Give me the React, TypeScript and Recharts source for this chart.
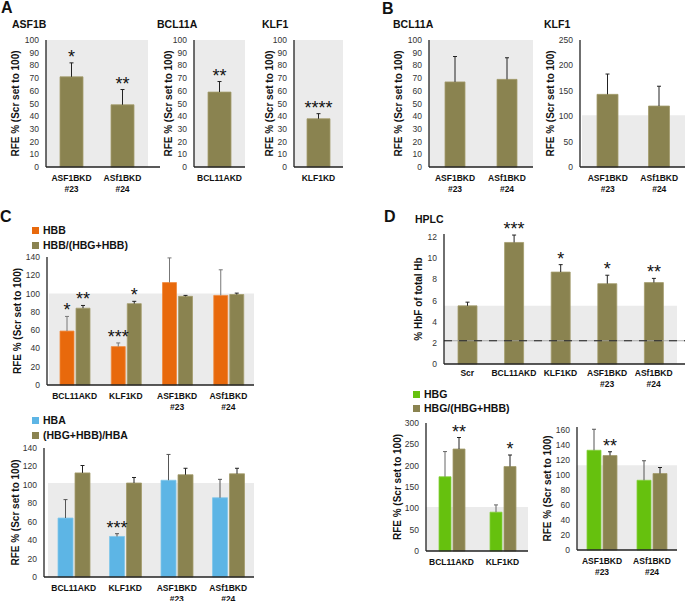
import React from 'react';
import {
  BarChart,
  Bar,
  XAxis,
  YAxis,
  ReferenceArea,
  ReferenceLine,
  ErrorBar,
  LabelList,
} from 'recharts';

const FONT = '"Liberation Sans", Arial, Helvetica, sans-serif';
const OLIVE = '#8a8350';
const OLIVE_EDGE = '#a39c6c';
const ORANGE = '#e8690c';
const BLUE = '#5db5e5';
const GREEN = '#66c10e';
const BAND = '#ebebeb';

// A: ASF1B / BCL11A / KLF1 knockdown
const asf1bCats = ['ASF1BKD\n#23', 'ASf1BKD\n#24'];
const asf1bVals = [71, 49];
const asf1bErr = [11, 12];
const asf1bStars = ['*', '**'];

const bcl11aCats = ['BCL11AKD'];
const bcl11aVals = [59];
const bcl11aErr = [8.3];
const bcl11aStars = ['**'];

const klf1Cats = ['KLF1KD'];
const klf1Vals = [38];
const klf1Err = [4];
const klf1Stars = ['****'];

// B: BCL11A / KLF1 in ASF1B knockdown
const bBcl11aVals = [67, 69];
const bBcl11aErr = [20, 17];
const bKlf1Vals = [143, 120];
const bKlf1Err = [40, 39];

// C
const cCats = ['BCL11AKD', 'KLF1KD', 'ASF1BKD\n#23', 'ASf1BKD\n#24'];
const hbbVals = [59, 42, 112, 98];
const hbbErr = [16, 4, 27, 28];
const hbbStars = ['*', '***', '', ''];
const hbbRatioVals = [84, 89, 97, 99];
const hbbRatioErr = [3, 2.5, 1, 1.5];
const hbbRatioStars = ['**', '*', '', ''];

const hbaVals = [64, 44, 105, 86];
const hbaErr = [20, 3, 28, 20];
const hbaStars = ['', '***', '', ''];
const hbaRatioVals = [113, 102, 111, 112];
const hbaRatioErr = [8, 6, 7, 6];

// D: HPLC
const hplcCats = ['Scr', 'BCL11AKD', 'KLF1KD', 'ASF1BKD\n#23', 'ASf1BKD\n#24'];
const hplcVals = [5.5, 11.5, 8.7, 7.6, 7.7];
const hplcErr = [0.35, 0.7, 0.7, 0.8, 0.4];
const hplcStars = ['', '***', '*', '*', '**'];

// D: HBG
const dCats1 = ['BCL11AKD', 'KLF1KD'];
const hbgVals1 = [174, 91];
const hbgErr1 = [59, 17];
const hbgRatioVals1 = [239, 198];
const hbgRatioErr1 = [27, 27];
const hbgRatioStars1 = ['**', '*'];

const dCats2 = ['ASF1BKD\n#23', 'ASf1BKD\n#24'];
const hbgVals2 = [133, 93];
const hbgErr2 = [28, 26];
const hbgRatioVals2 = [126, 102];
const hbgRatioErr2 = [5, 8];
const hbgRatioStars2 = ['**', ''];

const RFE = 'RFE % (Scr set to 100)';

type Series = {
  key: string;
  values: number[];
  errs: number[];
  stars?: string[];
  color: string;
  edge: string;
  errColor: string;
};

const range = (a: number, b: number, s: number) => {
  const out: number[] = [];
  for (let v = a; v <= b + 1e-9; v += s) out.push(v);
  return out;
};

const CatTick = (props: any) => {
  const { x, y, payload, dy } = props;
  const lines = String(payload.value).split('\n');
  return (
    <text x={x} y={y} textAnchor="middle" fontFamily={FONT} fontSize={8.5} fontWeight="bold" fill="#111">
      {lines.map((l, i) => (
        <tspan key={i} x={x} dy={i === 0 ? dy : 11}>
          {l}
        </tspan>
      ))}
    </text>
  );
};

const NumTick = (props: any) => {
  const { x, y, payload } = props;
  return (
    <text x={x} y={y} dy={3} textAnchor="end" fontFamily={FONT} fontSize={8.5} fill="#333">
      {payload.value}
    </text>
  );
};

const starContent = (vals: number[], errs: number[]) => (p: any) => {
  const { index, value } = p;
  if (!value) return null;
  const vb = p.viewBox || p;
  const { x, y, width, height } = vb;
  const top = y - errs[index] * (height / vals[index]);
  return (
    <text x={x + width / 2} y={top} textAnchor="middle" fontFamily={FONT} fontSize={18} fill="#111">
      {value}
    </text>
  );
};

const yLabelContent = (text: string, gap: number) => (p: any) => {
  const { x, y, width, height } = p.viewBox;
  const cx = x + width - gap;
  const cy = y + height / 2;
  return (
    <text
      x={cx}
      y={cy}
      transform={`rotate(-90 ${cx} ${cy})`}
      textAnchor="middle"
      dominantBaseline="central"
      fontFamily={FONT}
      fontSize={10}
      fontWeight="bold"
      fill="#111"
    >
      {text}
    </text>
  );
};

type PanelProps = {
  axisX: number;
  top: number;
  bottom: number;
  right: number;
  domain: [number, number];
  ticks: number[];
  band: number;
  cats: string[];
  series: Series[];
  barSize: number;
  barGap?: number;
  pad?: { left: number; right: number };
  yLabel: string;
  labelGap: number;
  xLabelDy?: number;
  dashed?: number;
};

const Panel = ({
  axisX,
  top,
  bottom,
  right,
  domain,
  ticks,
  band,
  cats,
  series,
  barSize,
  barGap = 2,
  pad = { left: 0, right: 0 },
  yLabel,
  labelGap,
  xLabelDy = 14,
  dashed,
}: PanelProps) => {
  const yAxisW = 40;
  const mTop = 18;
  const xH = 34;
  const data = cats.map((c, i) => {
    const row: any = { cat: c };
    series.forEach((s) => {
      row[s.key] = s.values[i];
      row[s.key + 'Err'] = [0, s.errs[i]];
      row[s.key + 'Star'] = s.stars ? s.stars[i] : '';
    });
    return row;
  });
  const width = yAxisW + (right - axisX) + 1;
  const height = mTop + (bottom - top) + xH;
  return (
    <div style={{ position: 'absolute', left: axisX - yAxisW, top: top - mTop }}>
      <BarChart
        width={width}
        height={height}
        data={data}
        margin={{ top: mTop, right: 1, left: 0, bottom: 0 }}
        barGap={barGap}
      >
        <ReferenceArea y1={0} y2={band} fill={BAND} fillOpacity={1} stroke="none" />
        <XAxis
          dataKey="cat"
          interval={0}
          tickLine={false}
          tickSize={0}
          tickMargin={0}
          height={xH}
          padding={pad}
          axisLine={{ stroke: '#222', strokeWidth: 1.3 }}
          tick={(p: any) => <CatTick {...p} dy={xLabelDy} />}
        />
        <YAxis
          type="number"
          domain={domain}
          ticks={ticks}
          interval={0}
          minTickGap={-20}
          width={yAxisW}
          tickLine={false}
          tickSize={0}
          tickMargin={7}
          axisLine={{ stroke: '#222', strokeWidth: 1.3 }}
          tick={(p: any) => <NumTick {...p} />}
          label={{ content: yLabelContent(yLabel, labelGap) } as any}
        />
        {series.map((s) => (
          <Bar
            key={s.key}
            dataKey={s.key}
            fill={s.color}
            stroke={s.edge}
            strokeWidth={0.8}
            barSize={barSize}
            isAnimationActive={false}
          >
            <ErrorBar
              dataKey={s.key + 'Err'}
              width={2}
              stroke={s.errColor}
              strokeWidth={1}
              direction="y"
              isAnimationActive={false}
            />
            <LabelList dataKey={s.key + 'Star'} content={starContent(s.values, s.errs)} />
          </Bar>
        ))}
        {dashed !== undefined && (
          <ReferenceLine y={dashed} stroke="#9a9a9a" strokeWidth={0.8} />
        )}
        {dashed !== undefined && (
          <ReferenceLine y={dashed} stroke="#222" strokeWidth={1.2} strokeDasharray="8 7" />
        )}
      </BarChart>
    </div>
  );
};

const olive = (key: string, values: number[], errs: number[], stars?: string[]): Series => ({
  key,
  values,
  errs,
  stars,
  color: OLIVE,
  edge: OLIVE_EDGE,
  errColor: '#222',
});

const LegendItem = ({ x, y, color, text }: { x: number; y: number; color: string; text: string }) => (
  <g>
    <rect x={x} y={y - 3.5} width={7} height={7} fill={color} />
    <text x={x + 11} y={y + 3.8} fontFamily={FONT} fontSize={10.5} fontWeight="bold" fill="#111">
      {text}
    </text>
  </g>
);

export default function App() {
  return (
    <div
      style={{
        position: 'absolute',
        left: 0,
        top: 0,
        width: 685,
        height: 601,
        background: '#fff',
        overflow: 'hidden',
        fontFamily: FONT,
      }}
    >
      <style>{`.recharts-errorBar line:nth-of-type(3){display:none}`}</style>

      {/* A */}
      <Panel
        axisX={46} top={40} bottom={167} right={160}
        domain={[0, 100]} ticks={range(0, 100, 10)} band={100}
        cats={asf1bCats}
        series={[olive('v', asf1bVals, asf1bErr, asf1bStars)]}
        barSize={23} pad={{ left: 0, right: 12 }}
        yLabel={RFE} labelGap={31}
      />
      <Panel
        axisX={194} top={40} bottom={167} right={245}
        domain={[0, 100]} ticks={range(0, 100, 10)} band={100}
        cats={bcl11aCats}
        series={[olive('v', bcl11aVals, bcl11aErr, bcl11aStars)]}
        barSize={23}
        yLabel={RFE} labelGap={26}
      />
      <Panel
        axisX={294} top={40} bottom={167} right={343}
        domain={[0, 100]} ticks={range(0, 100, 10)} band={100}
        cats={klf1Cats}
        series={[olive('v', klf1Vals, klf1Err, klf1Stars)]}
        barSize={23}
        yLabel={RFE} labelGap={25}
      />

      {/* B */}
      <Panel
        axisX={429} top={40} bottom={167} right={533}
        domain={[0, 100]} ticks={range(0, 100, 10)} band={100}
        cats={asf1bCats}
        series={[olive('v', bBcl11aVals, bBcl11aErr)]}
        barSize={20}
        yLabel={RFE} labelGap={31}
      />
      <Panel
        axisX={580} top={40} bottom={167} right={685}
        domain={[0, 250]} ticks={range(0, 250, 50)} band={102}
        cats={asf1bCats}
        series={[olive('v', bKlf1Vals, bKlf1Err)]}
        barSize={21} pad={{ left: 2, right: 0 }}
        yLabel={RFE} labelGap={30}
      />

      {/* C */}
      <Panel
        axisX={47} top={257} bottom={385} right={254}
        domain={[0, 140]} ticks={range(0, 140, 20)} band={100}
        cats={cCats}
        series={[
          { key: 'hbb', values: hbbVals, errs: hbbErr, stars: hbbStars, color: ORANGE, edge: '#f08a3e', errColor: '#777' },
          olive('ratio', hbbRatioVals, hbbRatioErr, hbbRatioStars),
        ]}
        barSize={14} barGap={2} pad={{ left: 2, right: 0 }}
        yLabel={RFE} labelGap={30}
      />
      <Panel
        axisX={44} top={448} bottom={577} right={254}
        domain={[0, 140]} ticks={range(0, 140, 20)} band={102}
        cats={cCats}
        series={[
          { key: 'hba', values: hbaVals, errs: hbaErr, stars: hbaStars, color: BLUE, edge: '#82c6ea', errColor: '#555' },
          olive('ratio', hbaRatioVals, hbaRatioErr),
        ]}
        barSize={15} barGap={2} pad={{ left: 4, right: 0 }}
        yLabel={RFE} labelGap={29}
      />

      {/* D */}
      <Panel
        axisX={444} top={234} bottom={364} right={685}
        domain={[0, 12.3]} ticks={range(0, 12, 2)} band={5.5}
        cats={hplcCats}
        series={[olive('v', hplcVals, hplcErr, hplcStars)]}
        barSize={19} pad={{ left: 0, right: 8 }}
        yLabel="% HbF of total Hb" labelGap={26} xLabelDy={12} dashed={2.2}
      />
      <Panel
        axisX={426} top={423} bottom={551} right={528}
        domain={[0, 300]} ticks={range(0, 300, 50)} band={103}
        cats={dCats1}
        series={[
          { key: 'hbg', values: hbgVals1, errs: hbgErr1, color: GREEN, edge: '#86d03e', errColor: '#666' },
          olive('ratio', hbgRatioVals1, hbgRatioErr1, hbgRatioStars1),
        ]}
        barSize={12} barGap={2}
        yLabel={RFE} labelGap={29}
      />
      <Panel
        axisX={577} top={427} bottom={550} right={677}
        domain={[0, 164]} ticks={range(0, 160, 20)} band={113}
        cats={dCats2}
        series={[
          { key: 'hbg', values: hbgVals2, errs: hbgErr2, color: GREEN, edge: '#86d03e', errColor: '#555' },
          olive('ratio', hbgRatioVals2, hbgRatioErr2, hbgRatioStars2),
        ]}
        barSize={14} barGap={2}
        yLabel={RFE} labelGap={30}
      />

      <svg
        width={685}
        height={601}
        style={{ position: 'absolute', left: 0, top: 0, pointerEvents: 'none' }}
      >
        <g fontFamily={FONT} fontWeight="bold" fill="#111">
          <text x={1} y={13} fontSize={16}>A</text>
          <text x={382} y={14} fontSize={16}>B</text>
          <text x={0} y={222} fontSize={16}>C</text>
          <text x={384} y={222} fontSize={16}>D</text>
          <text x={12} y={28} fontSize={10.5}>ASF1B</text>
          <text x={157} y={28} fontSize={10.5}>BCL11A</text>
          <text x={262} y={28} fontSize={10.5}>KLF1</text>
          <text x={393} y={28} fontSize={10.5}>BCL11A</text>
          <text x={544} y={28} fontSize={10.5}>KLF1</text>
          <text x={415} y={223} fontSize={10.5}>HPLC</text>
        </g>
        <LegendItem x={32} y={230.5} color={ORANGE} text="HBB" />
        <LegendItem x={32} y={245.5} color={OLIVE} text="HBB/(HBG+HBB)" />
        <LegendItem x={32} y={420.5} color={BLUE} text="HBA" />
        <LegendItem x={32} y={435.5} color={OLIVE} text="(HBG+HBB)/HBA" />
        <LegendItem x={413} y={394.5} color={GREEN} text="HBG" />
        <LegendItem x={413} y={408.5} color={OLIVE} text="HBG/(HBG+HBB)" />
      </svg>
    </div>
  );
}
